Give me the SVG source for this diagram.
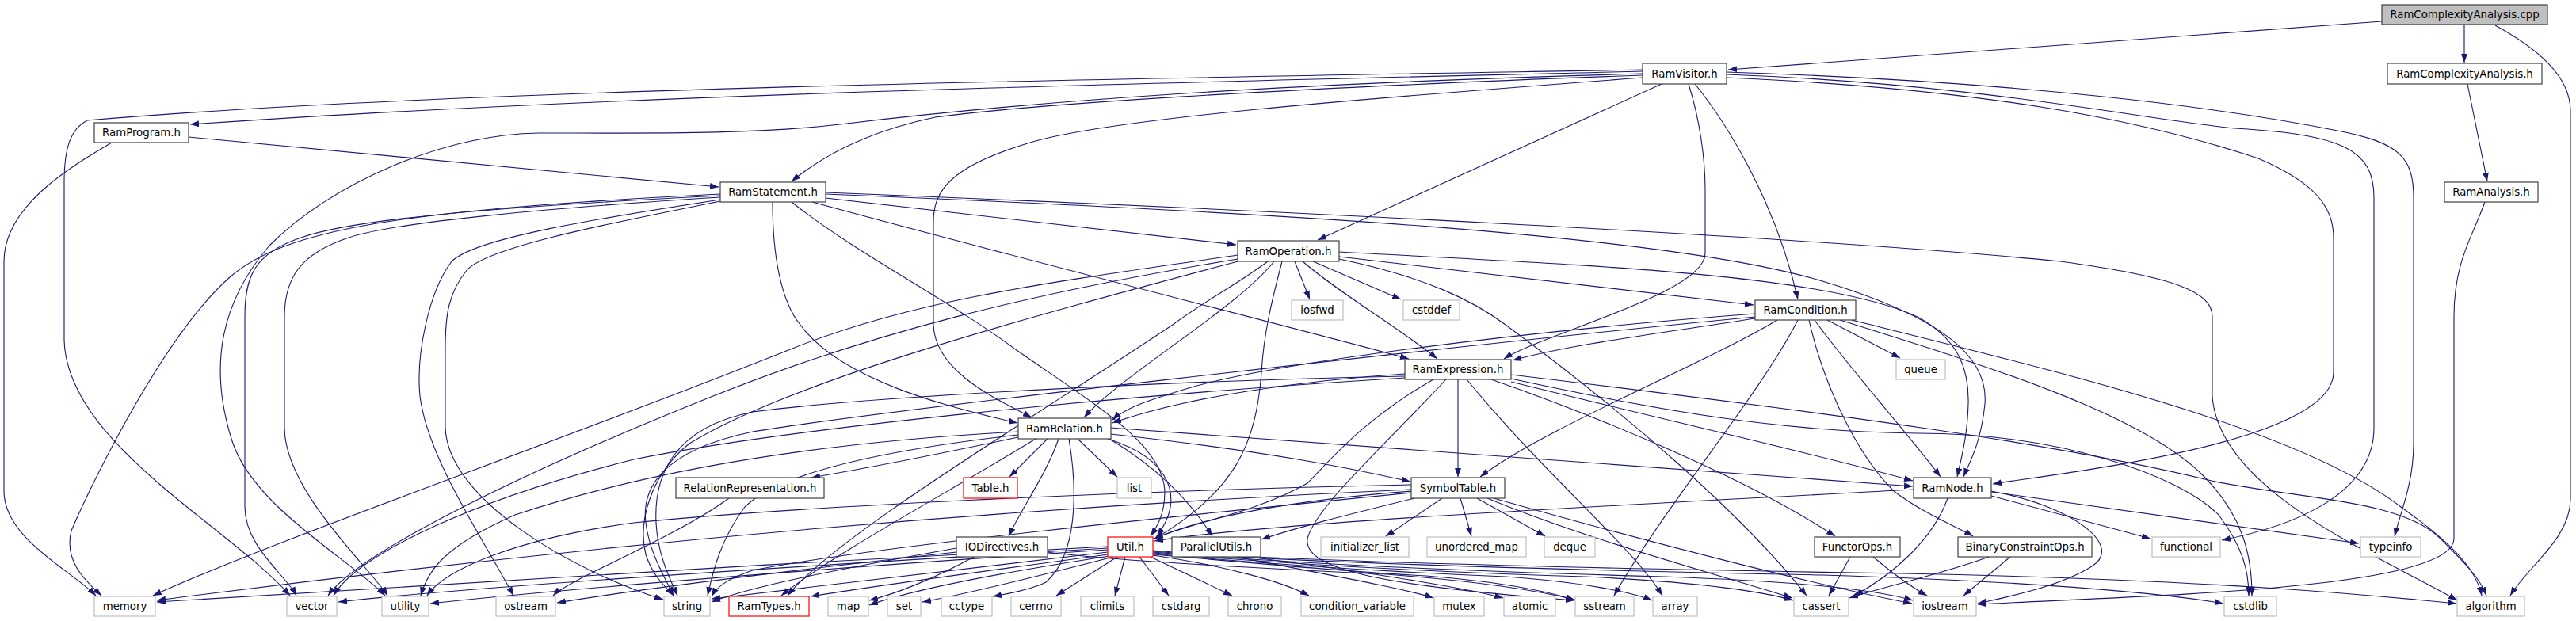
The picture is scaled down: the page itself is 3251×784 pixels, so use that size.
<svg xmlns="http://www.w3.org/2000/svg" width="3251" height="784" viewBox="0 0 3251 784">
<defs>
<marker id="a" markerWidth="11" markerHeight="8" refX="11" refY="4" orient="auto" markerUnits="userSpaceOnUse"><path d="M0,0 L11,4 L0,8 z" fill="#191970"/></marker>
<style>
#edges path{fill:none;stroke:#191970;stroke-width:1.1;marker-end:url(#a)}
.n rect{fill:#fff;stroke:#404040;stroke-width:1.2}
.g rect{fill:#fff;stroke:#bfbfbf;stroke-width:1.2}
.r rect{fill:#fff;stroke:#ff0000;stroke-width:1.2}
.root rect{fill:#bfbfbf;stroke:#404040;stroke-width:1.2}
text{font-family:"DejaVu Sans","Liberation Sans",sans-serif;font-size:13.3px;text-anchor:middle;fill:#000}
</style>
</defs>
<rect width="3251" height="784" fill="#fff"/>
<g id="edges">
<path d="M3006,27 L2181,88"/>
<path d="M3110,31 L3110,79"/>
<path d="M3149,32 C3200,60 3244,95 3244,140 L3244,630 C3244,680 3190,715 3168,752"/>
<path d="M3114,106 L3139,229"/>
<path d="M3136,255 C3120,300 3097,330 3097,400 L3097,680 C3097,745 2700,752 2496,763"/>
<path d="M2073,90 C1500,104 800,118 240,157"/>
<path d="M2073,88 C1500,98 600,110 110,152 C90,162 81,185 81,230 L81,430 C85,560 290,665 366,752"/>
<path d="M2073,93 C1600,106 1300,128 1060,157 C950,170 820,168 680,168 C560,170 420,230 340,310 C280,380 262,460 293,557 C320,640 440,705 486,752"/>
<path d="M2073,95 C1600,112 1300,132 1180,148 C1100,165 1040,195 999,229"/>
<path d="M2073,98 C1700,126 1400,150 1300,180 C1200,210 1178,240 1178,280 L1178,410 C1180,470 1260,505 1302,527"/>
<path d="M2097,106 L1663,303"/>
<path d="M2139,106 C2175,150 2240,250 2269,378"/>
<path d="M2131,106 C2145,150 2152,200 2152,240 L2152,320 C2152,370 1950,420 1898,453"/>
<path d="M2179,98 C2500,112 2700,150 2850,200 C2920,230 2945,260 2945,300 L2945,470 C2945,560 2600,597 2515,611"/>
<path d="M2179,94 C2500,106 2700,150 2820,162 C2960,170 2996,190 2996,250 L2996,540 C2996,630 2880,667 2804,682"/>
<path d="M2179,91 C2550,103 2800,135 2950,165 C3030,180 3046,200 3046,250 L3046,560 C3046,610 3030,645 3022,677"/>
<path d="M238,173 L907,236"/>
<path d="M141,180 C90,210 5,260 5,330 L5,620 C5,680 90,720 121,752"/>
<path d="M909,245 C500,265 360,290 290,350 C210,420 120,600 90,670 C80,710 110,735 128,752"/>
<path d="M909,247 C650,260 450,275 380,300 C320,320 309,350 309,400 L309,640 C309,690 360,725 374,752"/>
<path d="M909,249 C700,262 500,280 440,300 C380,320 359,350 359,400 L359,540 C359,620 470,720 489,752"/>
<path d="M909,252 C760,275 600,300 570,330 C540,370 525,450 530,500 C540,580 610,680 648,752"/>
<path d="M909,254 C780,280 620,310 590,340 C565,370 562,400 562,440 L562,540 C565,630 720,720 837,757"/>
<path d="M975,255 C975,320 985,380 1010,410 C1060,480 1200,515 1284,534"/>
<path d="M999,255 C1080,320 1200,380 1280,440 C1380,510 1468,560 1470,620 C1470,650 1460,665 1452,677"/>
<path d="M1025,255 C1300,330 1600,405 1778,453"/>
<path d="M1042,250 L1560,309"/>
<path d="M1042,243 C1600,265 2300,300 2600,330 C2750,350 2792,370 2792,400 L2792,500 C2800,620 3000,700 3101,758"/>
<path d="M1042,245 C1600,268 2100,295 2300,355 C2450,400 2510,450 2505,510 C2500,560 2485,585 2478,602"/>
<path d="M1562,322 C1300,360 1150,380 1000,440 C700,560 350,680 193,752"/>
<path d="M1562,327 C1300,370 1100,420 900,500 C650,600 450,700 414,752"/>
<path d="M1562,330 C1300,400 1000,480 870,560 C820,600 805,660 815,700 C825,730 840,740 850,752"/>
<path d="M1600,330 C1560,360 1520,380 1480,410 C1300,530 1050,680 994,752"/>
<path d="M1608,330 C1560,390 1420,470 1368,527"/>
<path d="M1618,330 C1605,380 1595,420 1592,470 C1585,560 1560,620 1456,681"/>
<path d="M1634,330 L1653,378"/>
<path d="M1644,330 C1690,370 1760,410 1814,453"/>
<path d="M1657,330 L1768,378"/>
<path d="M1690,327 C1800,350 1860,380 1900,410 C2050,520 2200,650 2280,752"/>
<path d="M1690,324 L2213,385"/>
<path d="M1690,318 C2000,335 2300,345 2420,400 C2475,430 2485,470 2484,510 C2483,550 2475,580 2470,602"/>
<path d="M2215,402 C2100,420 1980,435 1909,455"/>
<path d="M2215,396 C1900,420 1600,460 1500,490 C1450,505 1420,515 1404,530"/>
<path d="M2243,404 C2150,460 1950,540 1868,602"/>
<path d="M2269,404 C2220,500 2100,640 2037,752"/>
<path d="M2283,404 C2300,480 2340,570 2390,620 C2430,650 2470,665 2490,677"/>
<path d="M2290,404 C2330,460 2410,550 2449,602"/>
<path d="M2306,404 L2398,452"/>
<path d="M2322,404 C2500,460 2700,520 2780,600 C2830,650 2842,700 2842,752"/>
<path d="M2337,404 C2600,470 2900,540 3030,640 C3100,690 3125,720 3132,752"/>
<path d="M2215,400 C1800,440 1100,520 950,545 C830,570 810,620 815,660 C820,700 840,730 850,752"/>
<path d="M1840,479 L1840,602"/>
<path d="M1773,472 C1650,480 1500,500 1404,534"/>
<path d="M1773,475 C1500,480 1100,500 950,520 C850,540 825,600 828,660 C830,700 845,730 855,752"/>
<path d="M1773,477 C1400,500 1000,540 800,580 C600,630 450,700 421,752"/>
<path d="M1809,479 C1720,530 1680,580 1650,610 C1580,650 1500,660 1457,680"/>
<path d="M1825,479 C1750,560 1660,640 1650,680 C1645,720 1750,740 1987,758"/>
<path d="M1851,479 C1950,600 2060,690 2098,752"/>
<path d="M1882,479 C2000,520 2200,600 2316,677"/>
<path d="M1907,473 C2300,520 2600,560 2791,607 C2900,630 3030,630 3080,680 C3110,710 3130,730 3138,752"/>
<path d="M1907,478 C2100,520 2250,545 2420,547 C2600,547 2750,600 2800,650 C2830,690 2838,720 2838,752"/>
<path d="M1907,482 C2100,530 2300,575 2414,607"/>
<path d="M1285,552 C1200,570 1100,590 1024,603"/>
<path d="M1322,554 L1274,602"/>
<path d="M1360,554 L1410,602"/>
<path d="M1336,554 C1320,600 1290,640 1273,677"/>
<path d="M1349,554 C1360,620 1360,700 1320,735 C1300,745 1270,750 1253,753"/>
<path d="M1398,554 C1480,580 1495,630 1460,677"/>
<path d="M1400,554 C1460,590 1500,630 1530,677"/>
<path d="M1402,540 C1800,570 2200,600 2414,614"/>
<path d="M1402,548 C1600,570 1700,590 1780,608"/>
<path d="M1307,554 C1200,620 1050,700 986,752"/>
<path d="M1285,549 C1100,570 980,600 940,640 C910,680 900,720 893,752"/>
<path d="M1285,545 C1000,560 800,600 650,650 C560,690 540,720 531,752"/>
<path d="M1781,612 C1400,620 1000,640 800,660 C650,680 560,720 539,752"/>
<path d="M1781,618 C1300,640 800,680 198,758"/>
<path d="M1781,622 C1500,650 1100,690 950,720 C920,730 905,740 898,753"/>
<path d="M1781,620 C1650,630 1520,650 1456,681"/>
<path d="M1785,629 C1700,650 1640,665 1592,681"/>
<path d="M1820,629 L1749,677"/>
<path d="M1843,629 L1857,677"/>
<path d="M1864,629 L1950,677"/>
<path d="M1877,629 C2000,680 2150,720 2262,755"/>
<path d="M1885,629 C2100,690 2300,740 2413,762"/>
<path d="M2513,626 L2714,680"/>
<path d="M2513,621 L2977,686"/>
<path d="M2513,620 C2620,640 2680,690 2640,715 C2600,740 2540,752 2496,762"/>
<path d="M2458,629 C2440,680 2390,725 2340,752"/>
<path d="M2415,618 C2000,640 1600,660 1457,683"/>
<path d="M2335,703 L2308,752"/>
<path d="M2364,703 C2390,725 2410,740 2432,752"/>
<path d="M2510,703 C2450,725 2380,740 2334,755"/>
<path d="M2537,703 L2478,752"/>
<path d="M1229,703 C1180,730 1130,750 1097,758"/>
<path d="M1207,692 C1050,720 950,740 898,760"/>
<path d="M1322,697 C1400,708 1600,718 1750,725 C1880,735 1950,748 1987,757"/>
<path d="M1207,697 C1000,720 800,745 703,761"/>
<path d="M920,629 C850,680 720,730 698,752"/>
<path d="M1398,690 C1000,710 500,740 198,760"/>
<path d="M1398,692 C1000,715 600,740 427,760"/>
<path d="M1398,694 C1000,720 700,745 543,762"/>
<path d="M1398,697 C1200,720 1000,745 898,756"/>
<path d="M1398,700 C1250,720 1100,740 1023,753"/>
<path d="M1400,702 C1250,725 1150,745 1097,764"/>
<path d="M1405,703 C1300,730 1220,750 1164,760"/>
<path d="M1410,703 L1333,752"/>
<path d="M1420,703 L1407,752"/>
<path d="M1438,703 L1475,752"/>
<path d="M1452,703 L1555,752"/>
<path d="M1455,701 C1550,715 1620,735 1652,752"/>
<path d="M1455,700 C1600,712 1700,722 1800,727 C1900,735 1960,748 1987,758"/>
<path d="M1455,699 C1600,712 1750,722 1900,728 C2000,735 2060,748 2085,758"/>
<path d="M1455,698 C1600,710 1800,722 2000,728 C2150,735 2230,748 2263,758"/>
<path d="M1455,697 C1600,709 1800,720 2100,728 C2300,735 2380,748 2414,758"/>
<path d="M1455,696 C1600,708 1900,718 2300,726 C2600,735 2750,752 2806,762"/>
<path d="M1455,695 C1600,707 1900,716 2400,724 C2800,732 3000,752 3100,762"/>
<path d="M1560,703 C1700,730 1780,745 1809,755"/>
<path d="M1575,703 C1750,725 1860,745 1897,755"/>
</g>
<g id="cpp" class="root"><rect x="3006" y="6" width="209" height="25"/><text x="3110.5" y="23">RamComplexityAnalysis.cpp</text></g>
<g id="rcah" class="n"><rect x="3013" y="80" width="195" height="26"/><text x="3110.5" y="97.5">RamComplexityAnalysis.h</text></g>
<g id="ramvisitor" class="n"><rect x="2073" y="80" width="106" height="26"/><text x="2126" y="97.5">RamVisitor.h</text></g>
<g id="ramprogram" class="n"><rect x="119" y="155" width="119" height="25"/><text x="178.5" y="172">RamProgram.h</text></g>
<g id="ramstatement" class="n"><rect x="909" y="230" width="133" height="25"/><text x="975.5" y="247">RamStatement.h</text></g>
<g id="ramanalysis" class="n"><rect x="3085" y="230" width="118" height="25"/><text x="3144" y="247">RamAnalysis.h</text></g>
<g id="ramoperation" class="n"><rect x="1562" y="304" width="128" height="26"/><text x="1626" y="321.5">RamOperation.h</text></g>
<g id="iosfwd" class="g"><rect x="1630" y="379" width="65" height="25"/><text x="1662.5" y="396">iosfwd</text></g>
<g id="cstddef" class="g"><rect x="1771" y="379" width="71" height="25"/><text x="1806.5" y="396">cstddef</text></g>
<g id="ramcondition" class="n"><rect x="2215" y="379" width="127" height="25"/><text x="2278.5" y="396">RamCondition.h</text></g>
<g id="ramexpression" class="n"><rect x="1773" y="454" width="134" height="25"/><text x="1840" y="471">RamExpression.h</text></g>
<g id="queue" class="g"><rect x="2393" y="454" width="62" height="25"/><text x="2424" y="471">queue</text></g>
<g id="ramrelation" class="n"><rect x="1285" y="528" width="117" height="26"/><text x="1343.5" y="545.5">RamRelation.h</text></g>
<g id="relrep" class="n"><rect x="853" y="603" width="187" height="26"/><text x="946.5" y="620.5">RelationRepresentation.h</text></g>
<g id="table" class="r"><rect x="1216" y="603" width="68" height="26"/><text x="1250" y="620.5">Table.h</text></g>
<g id="list" class="g"><rect x="1410" y="603" width="43" height="26"/><text x="1431.5" y="620.5">list</text></g>
<g id="symboltable" class="n"><rect x="1781" y="603" width="118" height="26"/><text x="1840" y="620.5">SymbolTable.h</text></g>
<g id="ramnode" class="n"><rect x="2415" y="603" width="98" height="26"/><text x="2464" y="620.5">RamNode.h</text></g>
<g id="iodirectives" class="n"><rect x="1207" y="678" width="115" height="25"/><text x="1264.5" y="695">IODirectives.h</text></g>
<g id="util" class="r"><rect x="1398" y="678" width="57" height="25"/><text x="1426.5" y="695">Util.h</text></g>
<g id="parallelutils" class="n"><rect x="1479" y="678" width="112" height="25"/><text x="1535" y="695">ParallelUtils.h</text></g>
<g id="initializer_list" class="g"><rect x="1667" y="678" width="111" height="25"/><text x="1722.5" y="695">initializer_list</text></g>
<g id="unordered_map" class="g"><rect x="1801" y="678" width="125" height="25"/><text x="1863.5" y="695">unordered_map</text></g>
<g id="deque" class="g"><rect x="1949" y="678" width="64" height="25"/><text x="1981" y="695">deque</text></g>
<g id="functorops" class="n"><rect x="2290" y="678" width="108" height="25"/><text x="2344" y="695">FunctorOps.h</text></g>
<g id="bco" class="n"><rect x="2471" y="678" width="169" height="25"/><text x="2555.5" y="695">BinaryConstraintOps.h</text></g>
<g id="functional" class="g"><rect x="2716" y="678" width="86" height="25"/><text x="2759" y="695">functional</text></g>
<g id="typeinfo" class="g"><rect x="2979" y="678" width="76" height="25"/><text x="3017" y="695">typeinfo</text></g>
<g id="memory" class="g"><rect x="119" y="753" width="77" height="25"/><text x="157.5" y="770">memory</text></g>
<g id="vector" class="g"><rect x="362" y="753" width="63" height="25"/><text x="393.5" y="770">vector</text></g>
<g id="utility" class="g"><rect x="482" y="753" width="59" height="25"/><text x="511.5" y="770">utility</text></g>
<g id="ostream" class="g"><rect x="626" y="753" width="75" height="25"/><text x="663.5" y="770">ostream</text></g>
<g id="string" class="g"><rect x="838" y="753" width="58" height="25"/><text x="867" y="770">string</text></g>
<g id="ramtypes" class="r"><rect x="920" y="753" width="101" height="25"/><text x="970.5" y="770">RamTypes.h</text></g>
<g id="map" class="g"><rect x="1045" y="753" width="51" height="25"/><text x="1070.5" y="770">map</text></g>
<g id="set" class="g"><rect x="1120" y="753" width="42" height="25"/><text x="1141" y="770">set</text></g>
<g id="cctype" class="g"><rect x="1188" y="753" width="64" height="25"/><text x="1220" y="770">cctype</text></g>
<g id="cerrno" class="g"><rect x="1276" y="753" width="63" height="25"/><text x="1307.5" y="770">cerrno</text></g>
<g id="climits" class="g"><rect x="1364" y="753" width="67" height="25"/><text x="1397.5" y="770">climits</text></g>
<g id="cstdarg" class="g"><rect x="1455" y="753" width="71" height="25"/><text x="1490.5" y="770">cstdarg</text></g>
<g id="chrono" class="g"><rect x="1550" y="753" width="67" height="25"/><text x="1583.5" y="770">chrono</text></g>
<g id="condition_variable" class="g"><rect x="1642" y="753" width="142" height="25"/><text x="1713" y="770">condition_variable</text></g>
<g id="mutex" class="g"><rect x="1810" y="753" width="63" height="25"/><text x="1841.5" y="770">mutex</text></g>
<g id="atomic" class="g"><rect x="1898" y="753" width="65" height="25"/><text x="1930.5" y="770">atomic</text></g>
<g id="sstream" class="g"><rect x="1988" y="753" width="74" height="25"/><text x="2025" y="770">sstream</text></g>
<g id="array" class="g"><rect x="2086" y="753" width="56" height="25"/><text x="2114" y="770">array</text></g>
<g id="cassert" class="g"><rect x="2264" y="753" width="69" height="25"/><text x="2298.5" y="770">cassert</text></g>
<g id="iostream" class="g"><rect x="2415" y="753" width="79" height="25"/><text x="2454.5" y="770">iostream</text></g>
<g id="cstdlib" class="g"><rect x="2807" y="753" width="66" height="25"/><text x="2840" y="770">cstdlib</text></g>
<g id="algorithm" class="g"><rect x="3101" y="753" width="85" height="25"/><text x="3143.5" y="770">algorithm</text></g>
</svg>
